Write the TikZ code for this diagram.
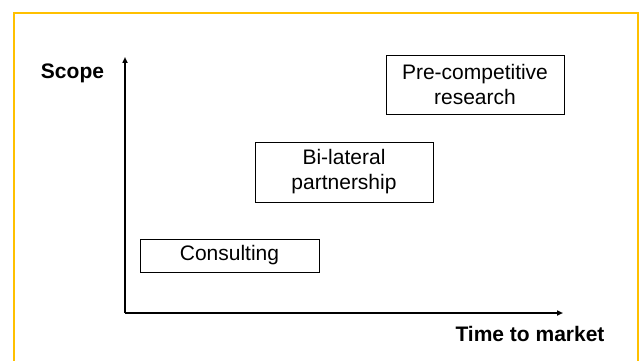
\documentclass[tikz,border=0pt]{standalone}
\usepackage{fontspec}
\setmainfont{Liberation Sans}
\usepackage{tikz}
\usetikzlibrary{positioning, arrows, arrows.meta}
\definecolor{frameyellow}{HTML}{FFC000}

\begin{document}
\begin{tikzpicture}[x=1pt,y=-1pt,
  box/.style={draw,line width=0.9pt,align=center,inner sep=0pt,font=\fontsize{21}{25}\selectfont},
  axlabel/.style={font=\fontsize{21}{25}\selectfont\bfseries},
  axis/.style={line width=1.8pt,-{Triangle[length=6pt,width=5pt]}}]
\useasboundingbox (0,0) rectangle (641,361);
\clip (0,0) rectangle (641,361);
\draw[frameyellow,line width=2.5pt] (14,13) rectangle (638,370);
\coordinate (origin) at (125,313);
\coordinate (ytop) at (125,57);
\coordinate (xend) at (563,313);
\draw[axis] (origin) -- (ytop);
\draw[axis] (origin) -- (xend);
\node[axlabel] (scope) at (72.5,73) {Scope};
\node[axlabel] (time) at (530,334) {Time to market};
\node[box,minimum width=179pt,minimum height=33pt] (consulting) at (229.5,255.5) {Consulting};
\node[box,minimum width=178pt,minimum height=60pt] (bilateral) at (344,172) {Bi-lateral\\partnership};
\node[box,minimum width=178pt,minimum height=59pt] (precomp) at (475,84.5) {Pre-competitive\\research};
\end{tikzpicture}
\end{document}
